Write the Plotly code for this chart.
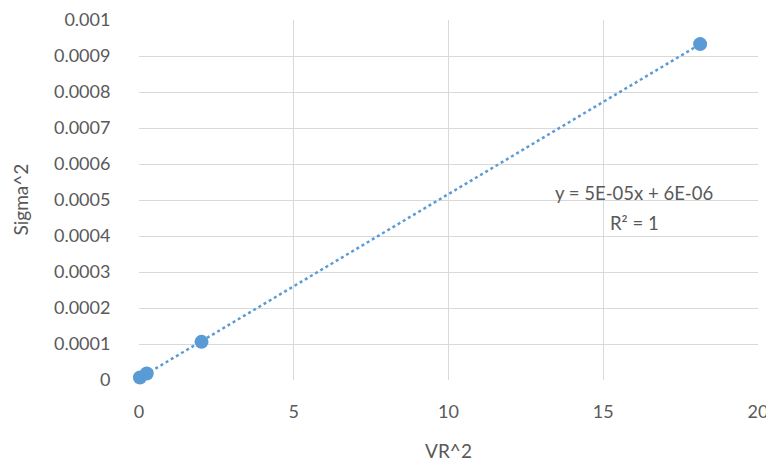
import numpy as np
import plotly.graph_objects as go

vr2 = [0.03, 0.25, 2.02, 18.13]
sigma2 = [0.000007, 0.000018, 0.000106, 0.000933]

x_ticks = [0, 5, 10, 15, 20]
y_ticks = [0, 0.0001, 0.0002, 0.0003, 0.0004, 0.0005, 0.0006, 0.0007, 0.0008, 0.0009, 0.001]
y_tick_text = ["0", "0.0001", "0.0002", "0.0003", "0.0004", "0.0005", "0.0006", "0.0007", "0.0008", "0.0009", "0.001"]

eq_text = "y = 5E-05x + 6E-06"
r2_text = "R² = 1"
x_title = "VR^2"
y_title = "Sigma^2"

blue = "#5B9BD5"
grey_text = "#595959"
grid = "#D9D9D9"

slope, intercept = np.polyfit(vr2, sigma2, 1)
tx = [min(vr2), max(vr2)]
ty = [slope * v + intercept for v in tx]

fig = go.Figure()
fig.add_trace(go.Scatter(x=tx, y=ty, mode="lines",
                         line=dict(color=blue, width=2.5, dash="dot"),
                         hoverinfo="skip", showlegend=False, cliponaxis=False))
fig.add_trace(go.Scatter(x=vr2, y=sigma2, mode="markers",
                         marker=dict(color=blue, size=14),
                         showlegend=False, cliponaxis=False))

fig.add_annotation(x=16.0, y=0.000519, xref="x", yref="y", text=eq_text,
                   showarrow=False, font=dict(size=18.5, color=grey_text))
fig.add_annotation(x=16.0, y=0.000437, xref="x", yref="y", text=r2_text,
                   showarrow=False, font=dict(size=18.5, color=grey_text))
fig.add_annotation(x=-0.193, y=0.5, xref="paper", yref="paper", text=y_title,
                   textangle=-90, showarrow=False, xanchor="center", yanchor="middle",
                   font=dict(size=19, color=grey_text))

# page body has an 8px margin, so the figure is sized/placed to compensate
fig.update_layout(
    width=766, height=455,
    margin=dict(l=131, r=16, t=12, b=83),
    paper_bgcolor="white", plot_bgcolor="white",
    font=dict(family="Lato, Open Sans, sans-serif", size=18, color=grey_text),
)
fig.update_xaxes(range=[0, 20], tickvals=x_ticks, showgrid=True, gridcolor=grid, gridwidth=1,
                 zeroline=False, showline=False, ticks="outside", ticklen=15,
                 tickcolor="rgba(0,0,0,0)", automargin=False,
                 title=dict(text=x_title, font=dict(size=19, color=grey_text), standoff=24))
fig.update_yaxes(range=[0, 0.001], tickvals=y_ticks, ticktext=y_tick_text, showgrid=True,
                 gridcolor=grid, gridwidth=1, zeroline=False, showline=False,
                 ticks="outside", ticklen=24, tickcolor="rgba(0,0,0,0)", automargin=False)

fig.write_html("out.html")
